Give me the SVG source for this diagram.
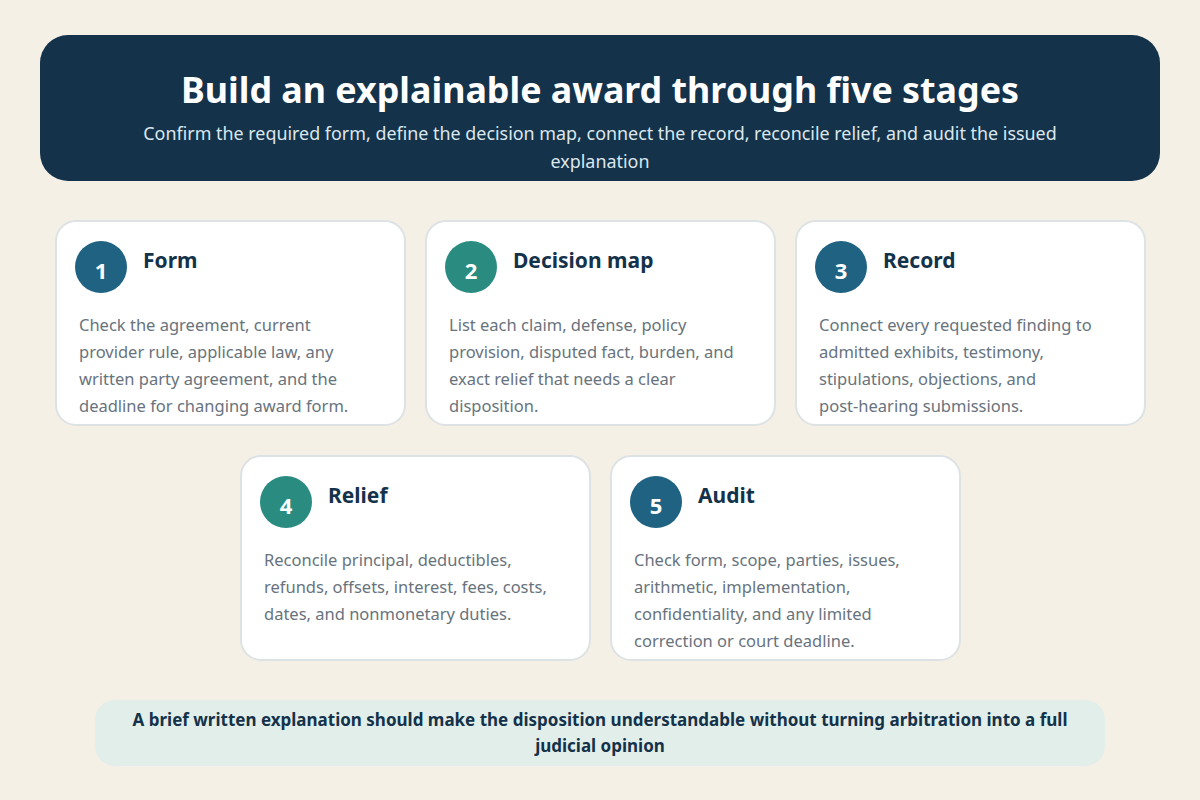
<svg xmlns="http://www.w3.org/2000/svg" width="1200" height="800" viewBox="0 0 1200 800">
<style>
.t{font-family:"Noto Sans","Open Sans","DejaVu Sans",sans-serif}
.card{fill:#ffffff;stroke:#dde2e4;stroke-width:2}
.num{font-weight:700;font-size:22px;fill:#ffffff;text-anchor:middle}
.ttl{font-weight:700;font-size:21px;fill:#14324a}
.body{font-size:16.5px;fill:#68737d}
.blue{fill:#1f6282}
.teal{fill:#2a8c80}
</style>
<rect width="1200" height="800" fill="#f5f0e6"/>
<g id="header">
<rect x="40" y="35" width="1120" height="146" rx="28" fill="#14324a"/>
<text class="t" x="600" y="103" text-anchor="middle" font-size="35.8" font-weight="700" fill="#ffffff">Build an explainable award through five stages</text>
<text class="t" x="600" y="140" text-anchor="middle" font-size="17.9" fill="#dbe7ee">Confirm the required form, define the decision map, connect the record, reconcile relief, and audit the issued</text>
<text class="t" x="600" y="168" text-anchor="middle" font-size="17.9" fill="#dbe7ee">explanation</text>
</g>
<g id="connectors"></g>
<g id="stage1">
<rect class="card" x="56" y="221" width="349" height="204" rx="20"/>
<circle class="blue" cx="101" cy="267" r="26"/>
<text class="t num" x="101" y="279">1</text>
<text class="t ttl" x="143" y="268">Form</text>
<text class="t body" x="79" y="331">Check the agreement, current</text>
<text class="t body" x="79" y="358">provider rule, applicable law, any</text>
<text class="t body" x="79" y="385">written party agreement, and the</text>
<text class="t body" x="79" y="412">deadline for changing award form.</text>
</g>
<g id="stage2">
<rect class="card" x="426" y="221" width="349" height="204" rx="20"/>
<circle class="teal" cx="471" cy="267" r="26"/>
<text class="t num" x="471" y="279">2</text>
<text class="t ttl" x="513" y="268">Decision map</text>
<text class="t body" x="449" y="331">List each claim, defense, policy</text>
<text class="t body" x="449" y="358">provision, disputed fact, burden, and</text>
<text class="t body" x="449" y="385">exact relief that needs a clear</text>
<text class="t body" x="449" y="412">disposition.</text>
</g>
<g id="stage3">
<rect class="card" x="796" y="221" width="349" height="204" rx="20"/>
<circle class="blue" cx="841" cy="267" r="26"/>
<text class="t num" x="841" y="279">3</text>
<text class="t ttl" x="883" y="268">Record</text>
<text class="t body" x="819" y="331">Connect every requested finding to</text>
<text class="t body" x="819" y="358">admitted exhibits, testimony,</text>
<text class="t body" x="819" y="385">stipulations, objections, and</text>
<text class="t body" x="819" y="412">post-hearing submissions.</text>
</g>
<g id="stage4">
<rect class="card" x="241" y="456" width="349" height="204" rx="20"/>
<circle class="teal" cx="286" cy="502" r="26"/>
<text class="t num" x="286" y="514">4</text>
<text class="t ttl" x="328" y="503">Relief</text>
<text class="t body" x="264" y="566">Reconcile principal, deductibles,</text>
<text class="t body" x="264" y="593">refunds, offsets, interest, fees, costs,</text>
<text class="t body" x="264" y="620">dates, and nonmonetary duties.</text>
</g>
<g id="stage5">
<rect class="card" x="611" y="456" width="349" height="204" rx="20"/>
<circle class="blue" cx="656" cy="502" r="26"/>
<text class="t num" x="656" y="514">5</text>
<text class="t ttl" x="698" y="503">Audit</text>
<text class="t body" x="634" y="566">Check form, scope, parties, issues,</text>
<text class="t body" x="634" y="593">arithmetic, implementation,</text>
<text class="t body" x="634" y="620">confidentiality, and any limited</text>
<text class="t body" x="634" y="647">correction or court deadline.</text>
</g>
<g id="footer">
<rect x="95" y="700" width="1010" height="66" rx="20" fill="#e2eeea"/>
<text class="t" x="600" y="726" text-anchor="middle" font-size="17" font-weight="700" fill="#14324a">A brief written explanation should make the disposition understandable without turning arbitration into a full</text>
<text class="t" x="600" y="752" text-anchor="middle" font-size="17" font-weight="700" fill="#14324a">judicial opinion</text>
</g>
</svg>
